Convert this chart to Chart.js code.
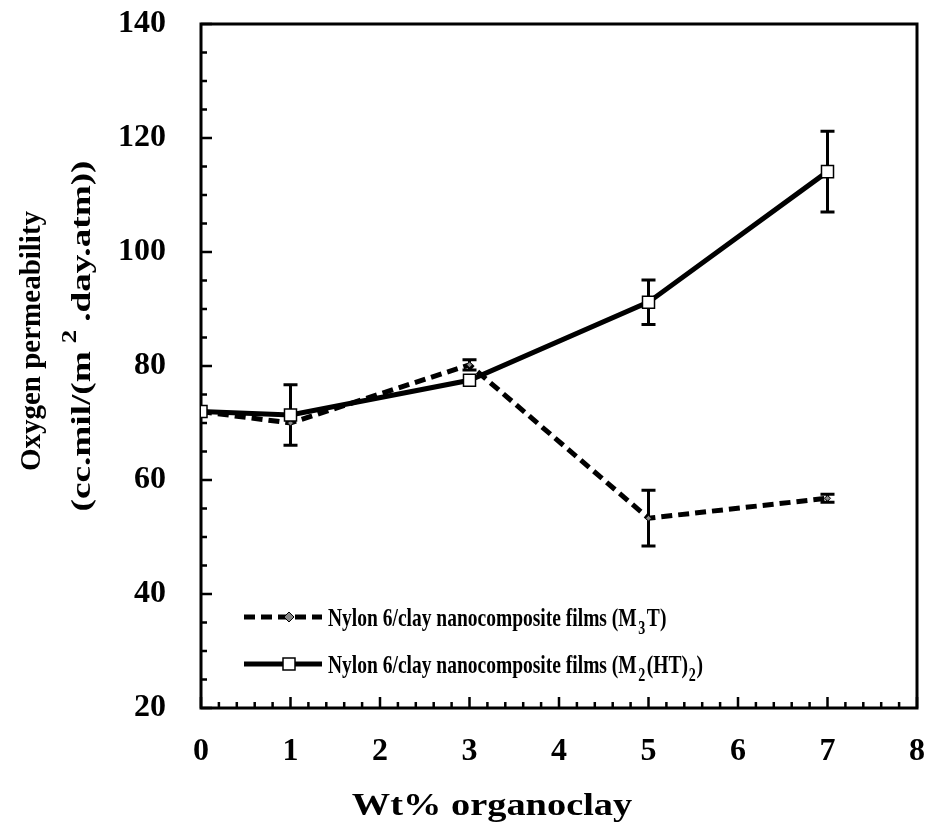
<!DOCTYPE html>
<html>
<head>
<meta charset="utf-8">
<script src="https://cdn.jsdelivr.net/npm/chart.js@4.4.0/dist/chart.umd.min.js"></script>
<style>
  body { margin: 0; background: #fff; }
  canvas { display: block; }
</style>
</head>
<body>
<canvas id="permChart" width="927" height="828"></canvas>
<script>
// data
const wtPercent = [0, 1, 3, 5, 7];
const m3tPerm = [72, 70, 80.2, 53.3, 56.8];
const m3tErr = [0, 0, 0.9, 4.9, 0.7];
const m2htPerm = [72, 71.4, 77.5, 91.2, 114.1];
const m2htErr = [0, 5.3, 0, 3.9, 7.1];
const xTickValues = [0, 1, 2, 3, 4, 5, 6, 7, 8];
const yTickValues = [20, 40, 60, 80, 100, 120, 140];

const serif = '"Liberation Serif", "Times New Roman", serif';

// draw text made of pieces (for sub/superscripts)
function drawRich(ctx, parts, x, y, size, squeeze, align) {
    ctx.save();
    let total = 0;
    const widths = parts.map(p => {
        ctx.font = 'bold ' + (p.sub || p.sup ? size * 0.72 : size) + 'px ' + serif;
        const w = ctx.measureText(p.t).width + (p.pad || 0);
        total += w;
        return w;
    });
    ctx.translate(x, y);
    ctx.scale(squeeze, 1);
    let cx = align === 'center' ? -total / 2 : 0;
    ctx.textAlign = 'left';
    ctx.textBaseline = 'alphabetic';
    ctx.fillStyle = '#000';
    parts.forEach((p, i) => {
        ctx.font = 'bold ' + (p.sub || p.sup ? size * 0.72 : size) + 'px ' + serif;
        const dy = p.sub ? size * 0.32 : (p.sup ? -size * 0.5 : 0);
        ctx.fillText(p.t, cx + (p.pad || 0) / 2, dy);
        cx += widths[i];
    });
    ctx.restore();
}

const framePlugin = {
    id: 'frame',
    beforeDatasetsDraw(chart) {
        const ctx = chart.ctx;
        const a = chart.chartArea;
        const xs = chart.scales.x;
        const ys = chart.scales.y;
        ctx.save();
        ctx.strokeStyle = '#000';
        ctx.lineWidth = 3;
        ctx.strokeRect(a.left, a.top, a.right - a.left, a.bottom - a.top);

        // inward ticks, left and bottom
        ctx.lineWidth = 2.5;
        ctx.beginPath();
        for (let v = 20; v <= 140; v += 5) {
            const py = ys.getPixelForValue(v);
            const len = v % 20 === 0 ? 11 : 6;
            ctx.moveTo(a.left, py);
            ctx.lineTo(a.left + len, py);
        }
        for (let i = 0; i <= 40; i++) {
            const px = xs.getPixelForValue(i / 5);
            const len = i % 5 === 0 ? 11 : 6;
            ctx.moveTo(px, a.bottom);
            ctx.lineTo(px, a.bottom - len);
        }
        ctx.stroke();

        // error bars
        ctx.lineWidth = 3;
        [[m2htPerm, m2htErr], [m3tPerm, m3tErr]].forEach(([vals, errs]) => {
            vals.forEach((v, i) => {
                if (!errs[i]) return;
                const px = xs.getPixelForValue(wtPercent[i]);
                const top = ys.getPixelForValue(v + errs[i]);
                const bot = ys.getPixelForValue(v - errs[i]);
                ctx.beginPath();
                ctx.moveTo(px, top);
                ctx.lineTo(px, bot);
                ctx.moveTo(px - 7, top);
                ctx.lineTo(px + 7, top);
                ctx.moveTo(px - 7, bot);
                ctx.lineTo(px + 7, bot);
                ctx.stroke();
            });
        });
        ctx.restore();
    },
    afterDraw(chart) {
        const ctx = chart.ctx;

        // legend
        ctx.save();
        ctx.strokeStyle = '#000';
        ctx.lineWidth = 5;
        ctx.setLineDash([11, 6]);
        ctx.beginPath();
        ctx.moveTo(244, 617);
        ctx.lineTo(322, 617);
        ctx.stroke();
        ctx.setLineDash([]);
        ctx.beginPath();
        ctx.moveTo(244, 664);
        ctx.lineTo(322, 664);
        ctx.stroke();
        ctx.lineWidth = 1;
        ctx.fillStyle = '#888';
        ctx.beginPath();
        ctx.moveTo(289, 612);
        ctx.lineTo(294, 617);
        ctx.lineTo(289, 622);
        ctx.lineTo(284, 617);
        ctx.closePath();
        ctx.fill();
        ctx.stroke();
        ctx.fillStyle = '#fff';
        ctx.lineWidth = 1.5;
        ctx.fillRect(283, 658, 12, 12);
        ctx.strokeRect(283, 658, 12, 12);
        ctx.restore();

        drawRich(ctx, [{t: 'Nylon 6/clay nanocomposite films (M'}, {t: '3', sub: true, pad: 4}, {t: 'T)'}],
            328, 626, 25, 0.78, 'left');
        drawRich(ctx, [{t: 'Nylon 6/clay nanocomposite films (M'}, {t: '2', sub: true, pad: 4}, {t: '(HT)'}, {t: '2', sub: true, pad: 2}, {t: ')'}],
            328, 673, 25, 0.78, 'left');

        // axis titles
        drawRich(ctx, [{t: 'Wt% organoclay'}], 492, 815, 32, 1.2, 'center');
        ctx.save();
        ctx.translate(40, 341);
        ctx.rotate(-Math.PI / 2);
        drawRich(ctx, [{t: 'Oxygen permeability'}], 0, 0, 29, 1, 'center');
        ctx.restore();
        ctx.save();
        ctx.translate(90, 336);
        ctx.rotate(-Math.PI / 2);
        drawRich(ctx, [{t: '(cc.mil/(m'}, {t: '2', sup: true, pad: 12}, {t: '.day.atm))'}], 0, 0, 28, 1.33, 'center');
        ctx.restore();
    }
};

const ctx = document.getElementById('permChart').getContext('2d');
const permChart = new Chart(ctx, {
    type: 'line',
    data: {
        datasets: [{
            label: 'Nylon 6/clay nanocomposite films (M2(HT)2)',
            data: wtPercent.map((x, i) => ({x: x, y: m2htPerm[i]})),
            borderColor: '#000',
            borderWidth: 5,
            pointStyle: 'rect',
            pointRadius: 8.5,
            pointBackgroundColor: '#fff',
            pointBorderColor: '#000',
            pointBorderWidth: 1.5,
            tension: 0
        }, {
            label: 'Nylon 6/clay nanocomposite films (M3T)',
            data: wtPercent.map((x, i) => ({x: x, y: m3tPerm[i]})),
            borderColor: '#000',
            borderWidth: 5,
            borderDash: [11, 6],
            pointStyle: 'rectRot',
            pointRadius: 3,
            pointBackgroundColor: '#888',
            pointBorderColor: '#000',
            pointBorderWidth: 1,
            tension: 0
        }]
    },
    options: {
        responsive: false,
        animation: false,
        layout: {
            padding: {left: 0, right: 9, top: 24, bottom: 0}
        },
        plugins: {
            legend: {display: false},
            tooltip: {enabled: false}
        },
        scales: {
            x: {
                type: 'linear',
                min: 0,
                max: 8,
                afterBuildTicks: s => { s.ticks = xTickValues.map(v => ({value: v})); },
                afterFit: s => { s.height = 120; s.paddingLeft = 0; s.paddingRight = 0; },
                grid: {display: false},
                border: {display: false},
                ticks: {
                    color: '#000',
                    padding: 17,
                    maxRotation: 0,
                    font: {family: serif, weight: 'bold', size: 32}
                }
            },
            y: {
                min: 20,
                max: 140,
                afterBuildTicks: s => { s.ticks = yTickValues.map(v => ({value: v})); },
                afterFit: s => { s.width = 201; s.paddingTop = 0; s.paddingBottom = 0; },
                grid: {display: false},
                border: {display: false},
                ticks: {
                    color: '#000',
                    padding: 27,
                    font: {family: serif, weight: 'bold', size: 32}
                }
            }
        }
    },
    plugins: [framePlugin]
});
</script>
</body>
</html>
